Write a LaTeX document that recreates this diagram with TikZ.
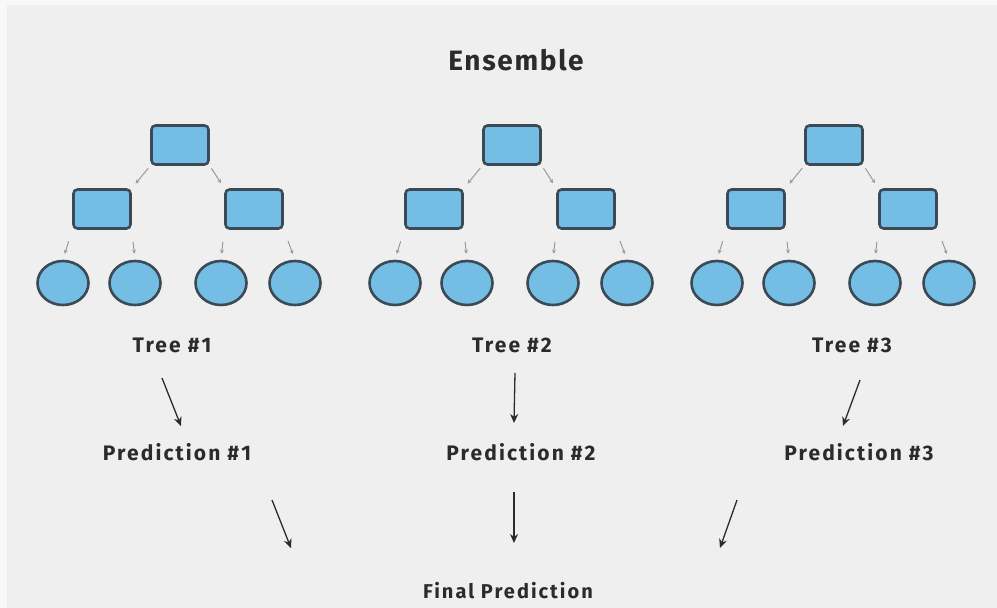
\documentclass[tikz,border=0pt]{standalone}
\usepackage{fontspec}
\setmainfont{Fira Sans}
\newfontfamily\labelfont[LetterSpace=10]{Fira Sans}
\newfontfamily\titlefont[LetterSpace=6]{Fira Sans}
\usetikzlibrary{arrows.meta,shapes.geometric}
\definecolor{bg}{HTML}{EFEFEF}
\definecolor{edge}{HTML}{F8F8F8}
\definecolor{boxfill}{HTML}{74BEE6}
\definecolor{boxline}{HTML}{3B4A54}
\definecolor{ink}{HTML}{2B2B2B}
\definecolor{faint}{HTML}{9A9A9A}
\begin{document}
\begin{tikzpicture}[x=1pt,y=-1pt,
  splitbox/.style={draw=boxline, fill=boxfill, line width=2.6pt, rounded corners=4pt,
    minimum width=57pt, minimum height=39pt, inner sep=0pt},
  leaf/.style={ellipse, draw=boxline, fill=boxfill, line width=2.6pt,
    minimum width=51pt, minimum height=44pt, inner sep=0pt},
  tiny/.style={draw=faint, line width=1pt, -{Stealth[length=4pt,width=4pt]}},
  flow/.style={draw=ink, line width=1.3pt, -{Stealth[length=9pt,width=8pt]}},
  lbl/.style={text=ink, font=\labelfont\bfseries\fontsize{21}{25}\selectfont, inner sep=0pt},
]
% canvas
\useasboundingbox (0,0) rectangle (997,608);
\fill[edge] (0,0) rectangle (997,608);
\fill[bg] (7,5) rectangle (997,608);

% title
\node[lbl, font=\titlefont\bfseries\fontsize{28}{32}\selectfont] (title) at (516,60) {Ensemble};

% three decision trees
\foreach \k/\dx in {1/0, 2/332, 3/654}{
  \node[splitbox] (root\k)  at (180+\dx,145) {};
  \node[splitbox] (left\k)  at (102+\dx,209) {};
  \node[splitbox] (right\k) at (254+\dx,209) {};
  \node[leaf] (la\k) at (63+\dx,283)  {};
  \node[leaf] (lb\k) at (135+\dx,283) {};
  \node[leaf] (lc\k) at (221+\dx,283) {};
  \node[leaf] (ld\k) at (295+\dx,283) {};
  \draw[tiny, shorten <=3pt, shorten >=6pt] (root\k.south west) -- (left\k.north east);
  \draw[tiny, shorten <=3pt, shorten >=6pt] (root\k.south east) -- (right\k.north west);
  \draw[tiny, shorten <=12pt, shorten >=6pt] (left\k.south west) -- (la\k.north);
  \draw[tiny, shorten <=12pt, shorten >=6pt] (left\k.south east) -- (lb\k.north);
  \draw[tiny, shorten <=12pt, shorten >=6pt] (right\k.south west) -- (lc\k.north);
  \draw[tiny, shorten <=12pt, shorten >=6pt] (right\k.south east) -- (ld\k.north);
}

% tree labels and predictions
\node[lbl] (tree1) at (172,345) {Tree \#1};
\node[lbl] (tree2) at (512,345) {Tree \#2};
\node[lbl] (tree3) at (852,345) {Tree \#3};
\node[lbl] (pred1) at (177,452) {Prediction \#1};
\node[lbl] (pred2) at (521,452) {Prediction \#2};
\node[lbl] (pred3) at (859,452) {Prediction \#3};
\node[lbl, font=\labelfont\bfseries\fontsize{20}{24}\selectfont] (final) at (508,591) {Final Prediction};

% arrow ends
\coordinate (t1s) at (162,378); \coordinate (t1e) at (181,426);
\coordinate (t2s) at (515,373); \coordinate (t2e) at (514,423);
\coordinate (t3s) at (860,380); \coordinate (t3e) at (843,426);
\coordinate (f1s) at (272,500); \coordinate (f1e) at (291,548);
\coordinate (f2s) at (514,492); \coordinate (f2e) at (514,543);
\coordinate (f3s) at (737,500); \coordinate (f3e) at (720,548);

\draw[flow] (t1s) -- (t1e);
\draw[flow] (t2s) -- (t2e);
\draw[flow] (t3s) -- (t3e);
\draw[flow] (f1s) -- (f1e);
\draw[flow] (f2s) -- (f2e);
\draw[flow] (f3s) -- (f3e);
\end{tikzpicture}
\end{document}
